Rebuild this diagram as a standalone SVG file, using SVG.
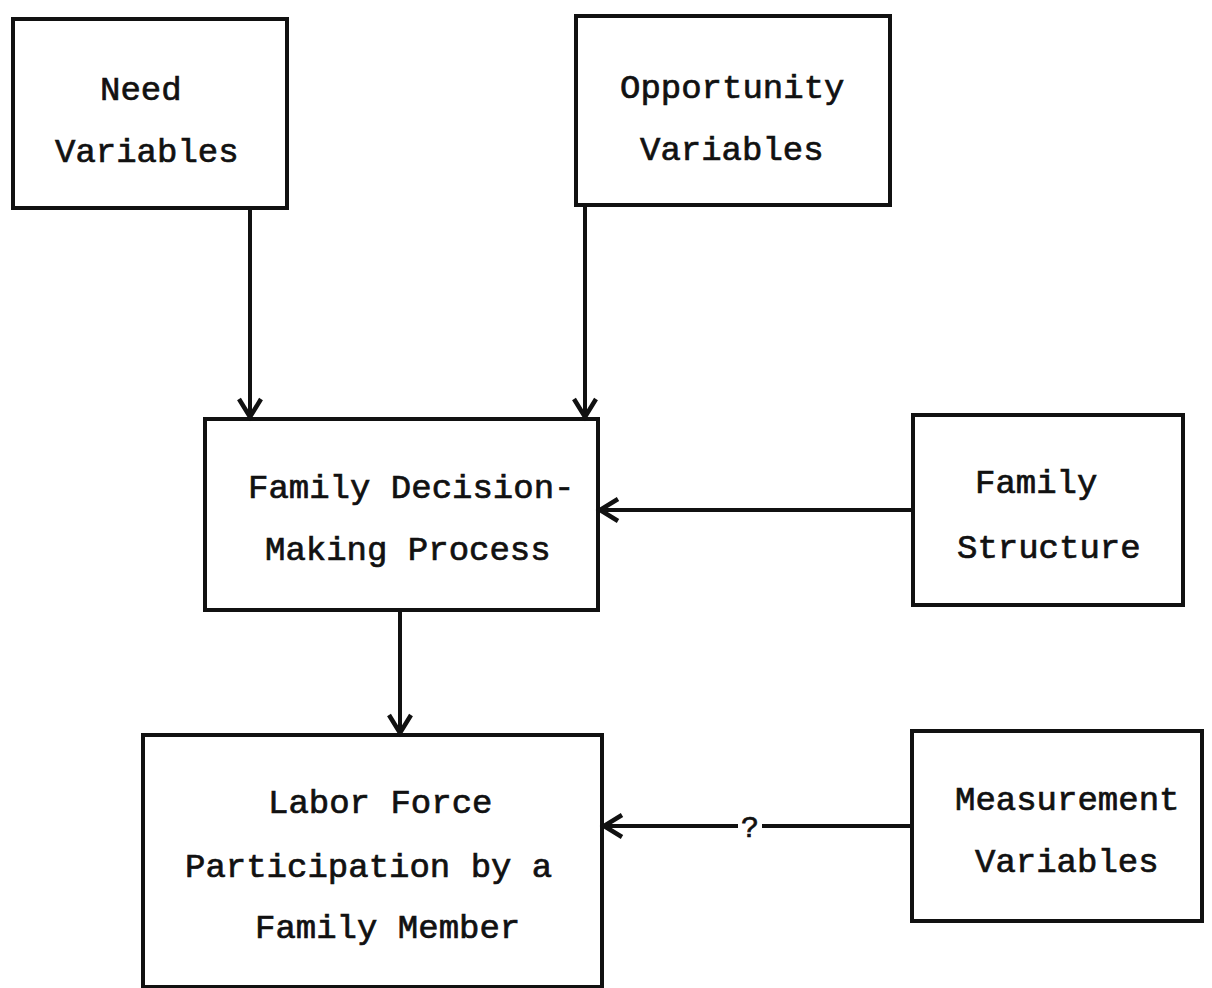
<svg xmlns="http://www.w3.org/2000/svg" width="1212" height="988" viewBox="0 0 1212 988">
<style>
.box{fill:#fff;stroke:#111;stroke-width:4}
.t{font-family:"Liberation Mono","Courier New",monospace;font-size:34px;fill:#111;stroke:#111;stroke-width:0.7}
.c{fill:none;stroke:#111;stroke-width:4}
</style>
<defs>
<marker id="ah" markerUnits="userSpaceOnUse" markerWidth="30" markerHeight="30" viewBox="0 0 30 30" refX="24" refY="15" orient="auto">
<path d="M6,4 L24,15 L6,26" fill="none" stroke="#111" stroke-width="4.5" stroke-linejoin="miter"/>
</marker>
</defs>
<rect width="1212" height="988" fill="#fff"/>
<g id="need">
<rect class="box" x="13" y="19" width="274" height="189"/>
<text class="t" x="100" y="100">Need</text>
<text class="t" x="55" y="162">Variables</text>
</g>
<g id="opportunity">
<rect class="box" x="576" y="16" width="314" height="189"/>
<text class="t" x="620" y="98">Opportunity</text>
<text class="t" x="640" y="160">Variables</text>
</g>
<g id="decision">
<rect class="box" x="205" y="419" width="393" height="191"/>
<text class="t" x="248" y="498">Family Decision-</text>
<text class="t" x="265" y="560">Making Process</text>
</g>
<g id="structure">
<rect class="box" x="913" y="415" width="270" height="190"/>
<text class="t" x="975" y="493">Family</text>
<text class="t" x="957" y="558">Structure</text>
</g>
<g id="labor">
<rect class="box" x="143" y="735" width="459" height="252"/>
<text class="t" x="268" y="813">Labor Force</text>
<text class="t" x="185" y="877">Participation by a</text>
<text class="t" x="255" y="938">Family Member</text>
</g>
<g id="measurement">
<rect class="box" x="912" y="731" width="290" height="190"/>
<text class="t" x="955" y="810">Measurement</text>
<text class="t" x="975" y="872">Variables</text>
</g>
<g id="connectors">
<line class="c" x1="250" y1="208" x2="250" y2="417" marker-end="url(#ah)"/>
<line class="c" x1="585" y1="205" x2="585" y2="417" marker-end="url(#ah)"/>
<line class="c" x1="913" y1="510" x2="600" y2="510" marker-end="url(#ah)"/>
<line class="c" x1="400" y1="610" x2="400" y2="733" marker-end="url(#ah)"/>
<line class="c" x1="912" y1="826" x2="762" y2="826"/>
<line class="c" x1="738" y1="826" x2="604" y2="826" stroke-width="3" marker-end="url(#ah)"/>
<text class="t" x="750" y="837" text-anchor="middle" style="font-size:30px">?</text>
</g>
</svg>
